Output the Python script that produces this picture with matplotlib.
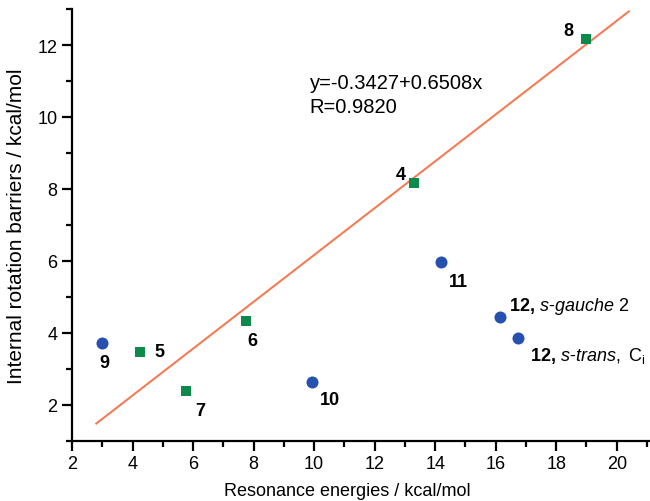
import numpy as np
import matplotlib
matplotlib.use("Agg")
import matplotlib.pyplot as plt
from matplotlib.ticker import MultipleLocator

plt.rcParams['font.family'] = ['Liberation Sans', 'DejaVu Sans']
plt.rcParams['mathtext.fontset'] = 'custom'
plt.rcParams['mathtext.rm'] = 'Liberation Sans'
plt.rcParams['mathtext.it'] = 'Liberation Sans:italic'
plt.rcParams['mathtext.bf'] = 'Liberation Sans:bold'

# squares (fitted set) and circles
sq_labels = ['5', '7', '6', '4', '8']
sq_x = [4.24, 5.76, 7.74, 13.29, 19.0]
sq_y = [3.48, 2.39, 4.32, 8.16, 12.17]

ci_labels = ['9', '10', '11',
             r'$\mathbf{12,}\,\mathit{s}\text{-}\mathit{gauche}\ 2$',
             r'$\mathbf{12,}\,\mathit{s}\text{-}\mathit{trans},\ \mathrm{C}_\mathrm{i}$']
ci_x = [2.99, 9.92, 14.18, 16.13, 16.75]
ci_y = [3.71, 2.62, 5.98, 4.44, 3.85]

fit_a, fit_b = -0.3427, 0.6508
fit_x = [2.8, 20.4]

GREEN = '#0b8a4c'
BLUE = '#2651b0'
ORANGE = '#f47c55'

fig = plt.figure(figsize=(6.5, 5.02), dpi=100)
ax = fig.add_axes([0.111, 0.12, 0.889, 0.86])

xf = np.array(fit_x)
ax.plot(xf, fit_a + fit_b * xf, color=ORANGE, lw=1.5, zorder=1)
ax.scatter(sq_x, sq_y, marker='s', s=60, color=GREEN, zorder=3, linewidths=0)
ax.scatter(ci_x, ci_y, marker='o', s=75, color=BLUE, zorder=3, linewidths=0)

# label offsets in points (dx, dy, ha)
sq_off = [(14, 0, 'center'), (10, -14, 'center'), (5, -14, 'center'),
          (-9, 6, 'center'), (-13, 6, 'center')]
ci_off = [(1.5, -14, 'center'), (13, -12, 'center'), (13, -14, 'center'),
          (7, 8, 'left'), (8, -12, 'left')]

for lab, x, y, (dx, dy, ha) in zip(sq_labels + ci_labels, sq_x + ci_x, sq_y + ci_y, sq_off + ci_off):
    ax.annotate(lab, (x, y), xytext=(dx, dy), textcoords='offset points',
                ha=ha, va='center', fontsize=13, fontweight='bold')

ax.text(9.85, 10.95, 'y=-0.3427+0.6508x', fontsize=14.5, va='center')
ax.text(9.85, 10.3, 'R=0.9820', fontsize=14.5, va='center')

ax.set_xlim(2, 21.1)
ax.set_ylim(1, 13)
ax.xaxis.set_minor_locator(MultipleLocator(1))
ax.yaxis.set_minor_locator(MultipleLocator(1))
ax.set_xticks([2, 4, 6, 8, 10, 12, 14, 16, 18, 20])
ax.set_yticks([2, 4, 6, 8, 10, 12])

for s in ['top', 'right']:
    ax.spines[s].set_visible(False)
for s in ['left', 'bottom']:
    ax.spines[s].set_linewidth(1.6)
ax.tick_params(which='major', direction='out', length=7, width=1.6, labelsize=13)
ax.tick_params(which='minor', direction='out', length=4, width=1.6)

ax.set_xlabel('Resonance energies / kcal/mol', fontsize=13, labelpad=7)
ax.xaxis.label.set_x(0.476)
ax.set_ylabel('Internal rotation barriers / kcal/mol', fontsize=15, labelpad=8)

fig.savefig('out.png', dpi=100)
